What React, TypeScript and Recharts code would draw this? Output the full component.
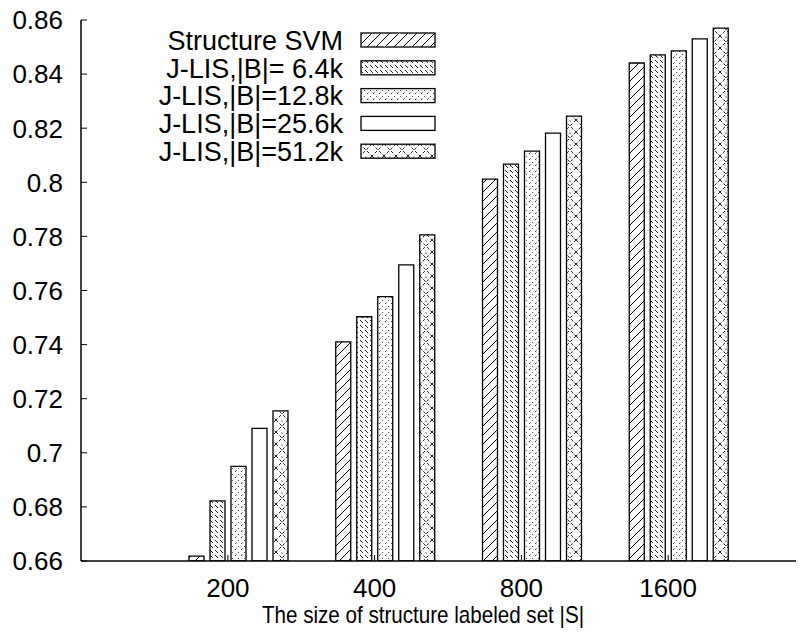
import { BarChart, Bar, XAxis, YAxis } from "recharts";

const SIZES = ["200", "400", "800", "1600"];
const SVM = [0.6618, 0.741, 0.8012, 0.8441];
const B_6_4K = [0.6822, 0.7503, 0.8067, 0.8471];
const B_12_8K = [0.695, 0.7577, 0.8115, 0.8486];
const B_25_6K = [0.709, 0.7695, 0.8182, 0.853];
const B_51_2K = [0.7155, 0.7806, 0.8245, 0.857];
const Y_TICKS = [0.66, 0.68, 0.7, 0.72, 0.74, 0.76, 0.78, 0.8, 0.82, 0.84, 0.86];
const X_TITLE = "The size of structure labeled set |S|";

const SERIES = [
  { key: "svm", name: "Structure SVM", values: SVM, fill: "url(#pSvm)" },
  { key: "b64", name: "J-LIS,|B|= 6.4k", values: B_6_4K, fill: "url(#pB64)" },
  { key: "b128", name: "J-LIS,|B|=12.8k", values: B_12_8K, fill: "url(#pB128)" },
  { key: "b256", name: "J-LIS,|B|=25.6k", values: B_25_6K, fill: "#ffffff" },
  { key: "b512", name: "J-LIS,|B|=51.2k", values: B_51_2K, fill: "url(#pB512)" },
];

const data = SIZES.map((size, i) => {
  const row: Record<string, string | number> = { size };
  SERIES.forEach((s) => (row[s.key] = s.values[i]));
  return row;
});

const FONT = "'Liberation Sans', Arial, Helvetica, sans-serif";
const PLOT_LEFT = 81;
const PLOT_TOP = 20;
const PLOT_BOTTOM = 561;
const LABEL_SHIFT = -10.5;

const YTick = (props: any) => {
  const { y, payload } = props;
  const v = payload.value;
  return (
    <g>
      <line x1={PLOT_LEFT} x2={PLOT_LEFT + 6} y1={y} y2={y} stroke="#000" strokeWidth={1} />
      <text x={63} y={y} dy="0.36em" textAnchor="end" fontFamily={FONT} fontSize={26} fill="#000">
        {Math.abs(v * 10 - Math.round(v * 10)) < 1e-9 ? v.toFixed(1) : v.toFixed(2)}
      </text>
    </g>
  );
};

const XTick = (props: any) => {
  const { x, payload } = props;
  const tx = x + LABEL_SHIFT;
  return (
    <g>
      <line x1={tx} x2={tx} y1={PLOT_BOTTOM} y2={PLOT_BOTTOM - 6} stroke="#000" strokeWidth={1} />
      <text x={tx} y={588} dy="0.36em" textAnchor="middle" fontFamily={FONT} fontSize={26} fill="#000">
        {payload.value}
      </text>
    </g>
  );
};

const TopTick = (props: any) => {
  const tx = props.x + LABEL_SHIFT;
  return <line x1={tx} x2={tx} y1={PLOT_TOP} y2={PLOT_TOP + 6} stroke="#000" strokeWidth={1} />;
};

function Patterns() {
  return (
    <svg width={0} height={0} style={{ position: "absolute" }}>
      <defs>
        <pattern id="pSvm" patternUnits="userSpaceOnUse" width={9} height={9}>
          <rect width={9} height={9} fill="#fff" />
          <path d="M0,9 L9,0 M-2,2 L2,-2 M7,11 L11,7" stroke="#000" strokeWidth={1} />
        </pattern>
        <pattern id="pB64" patternUnits="userSpaceOnUse" width={5} height={5}>
          <rect width={5} height={5} fill="#fff" />
          <path d="M0,0 L3,3" stroke="#222" strokeWidth={1} />
        </pattern>
        <pattern id="pB128" patternUnits="userSpaceOnUse" width={6} height={6}>
          <rect width={6} height={6} fill="#fff" />
          <path d="M1,4 L2.5,2.5" stroke="#333" strokeWidth={1} />
          <path d="M4,1 L5,0" stroke="#555" strokeWidth={1} />
        </pattern>
        <pattern id="pB512" patternUnits="userSpaceOnUse" width={12} height={12}>
          <rect width={12} height={12} fill="#fff" />
          <path d="M0,0 L12,12 M12,0 L0,12" stroke="#222" strokeWidth={1} strokeDasharray="3 2" />
          <circle cx={6} cy={1} r={0.7} fill="#555" />
        </pattern>
      </defs>
    </svg>
  );
}

function Overlay() {
  return (
    <svg width={804} height={641} style={{ position: "absolute", left: 0, top: 0, pointerEvents: "none" }}>
      {SERIES.map((s, i) => {
        const cy = 40 + i * 27.8;
        return (
          <g key={s.key}>
            <text x={343} y={cy} dy="0.36em" textAnchor="end" fontFamily={FONT} fontSize={27} fill="#000">
              {s.name}
            </text>
            <rect x={361} y={cy - 7} width={74} height={14} fill={s.fill} stroke="#000" strokeWidth={1.3} />
          </g>
        );
      })}
      <text
        x={423}
        y={614}
        dy="0.36em"
        textAnchor="middle"
        fontFamily={FONT}
        fontSize={24}
        textLength={322}
        lengthAdjust="spacingAndGlyphs"
        fill="#000"
      >
        {X_TITLE}
      </text>
    </svg>
  );
}

export default function App() {
  return (
    <div style={{ margin: -8, width: 804, height: 641, overflow: "hidden", position: "relative", background: "#fff" }}>
      <Patterns />
      <BarChart
        width={840}
        height={641}
        data={data}
        margin={{ top: PLOT_TOP, right: 10, left: 0, bottom: 30 }}
        barSize={15}
        barGap={6}
      >
        <XAxis
          dataKey="size"
          height={50}
          padding={{ left: 84, right: 78 }}
          axisLine={{ stroke: "#000", strokeWidth: 1.5 }}
          tickLine={false}
          tick={<XTick />}
          interval={0}
        />
        <XAxis
          xAxisId="top"
          dataKey="size"
          orientation="top"
          height={0}
          padding={{ left: 84, right: 78 }}
          axisLine={{ stroke: "#000", strokeWidth: 1.5 }}
          tickLine={false}
          tick={<TopTick />}
          interval={0}
        />
        <YAxis
          width={81}
          domain={[0.66, 0.86]}
          ticks={Y_TICKS}
          allowDataOverflow
          axisLine={{ stroke: "#000", strokeWidth: 1.5 }}
          tickLine={false}
          tick={<YTick />}
          interval={0}
        />
        {SERIES.map((s) => (
          <Bar
            key={s.key}
            dataKey={s.key}
            name={s.name}
            fill={s.fill}
            stroke="#000"
            strokeWidth={1.3}
            isAnimationActive={false}
          />
        ))}
      </BarChart>
      <Overlay />
    </div>
  );
}
